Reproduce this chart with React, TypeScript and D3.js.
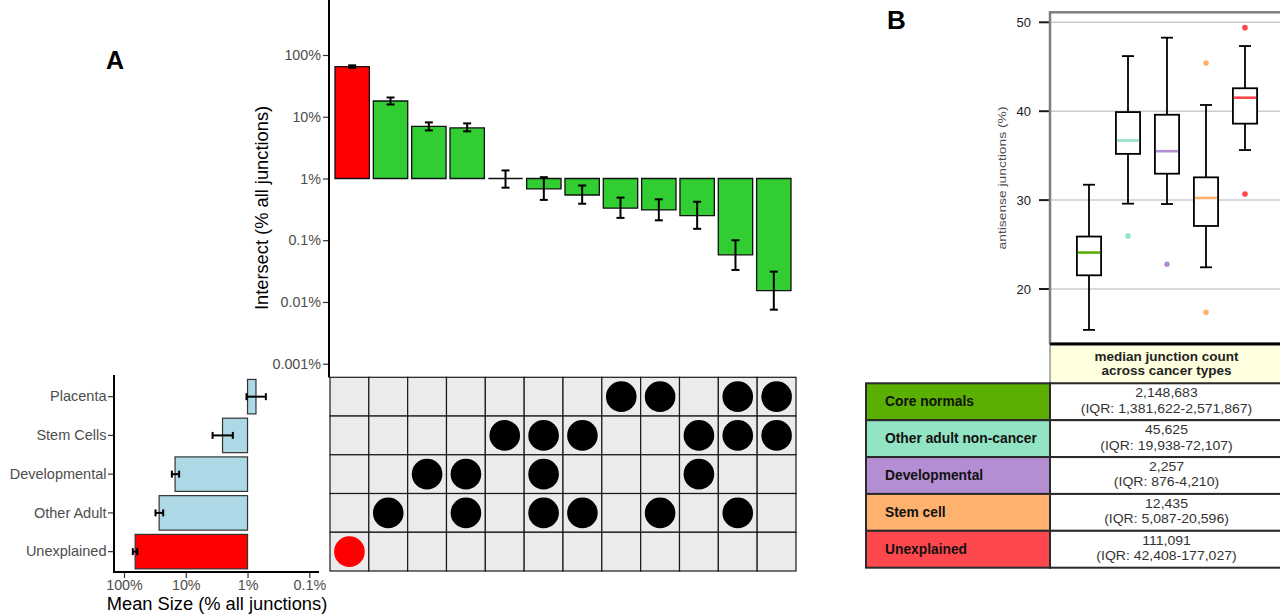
import React, { useEffect, useRef } from 'react';
import * as d3 from 'd3';

const FONT = '"Liberation Sans", Arial, Helvetica, sans-serif';

// panel A: sets (matrix rows, top to bottom)
const setNames = ['Placenta', 'Stem Cells', 'Developmental', 'Other Adult', 'Unexplained'];
const meanSize = [0.73, 2.54, 14.9, 27, 66];
const meanSizeLow = [0.505, 1.73, 12.8, 23.2, 61];
const meanSizeHigh = [1.04, 3.68, 16.8, 30.9, 72];
const meanTicks = [100, 10, 1, 0.1];

// panel A: intersections (columns)
const intersectMembers = [
    ['Unexplained'],
    ['Other Adult'],
    ['Developmental'],
    ['Developmental', 'Other Adult'],
    ['Stem Cells'],
    ['Stem Cells', 'Developmental', 'Other Adult'],
    ['Stem Cells', 'Other Adult'],
    ['Placenta'],
    ['Placenta', 'Other Adult'],
    ['Stem Cells', 'Developmental'],
    ['Placenta', 'Stem Cells', 'Other Adult'],
    ['Placenta', 'Stem Cells'],
];
const intersectSize = [65, 18, 7.0, 6.6, 1.0, 0.68, 0.54, 0.33, 0.31, 0.25, 0.058, 0.0153];
const intersectLow = [62, 15.8, 6.0, 5.8, 0.71, 0.45, 0.39, 0.23, 0.21, 0.153, 0.033, 0.0075];
const intersectHigh = [68, 20.5, 8.1, 7.8, 1.35, 1.05, 0.77, 0.49, 0.46, 0.42, 0.1, 0.031];
const intersectTicks = [100, 10, 1, 0.1, 0.01, 0.001];

// panel B: boxplot
const groups = ['Core normals', 'Other adult non-cancer', 'Developmental', 'Stem cell', 'Unexplained'];
const groupColors = ['#5aaf00', '#93e3c5', '#b48ed3', '#ffb26e', '#ff484e'];
const whiskerLow = [15.4, 29.6, 29.56, 22.44, 35.63];
const q1 = [21.54, 35.2, 32.97, 27.09, 38.6];
const median = [24.1, 36.7, 35.5, 30.24, 41.52];
const q3 = [25.9, 39.9, 39.6, 32.56, 42.58];
const whiskerHigh = [31.73, 46.2, 48.27, 40.7, 47.33];
const outliers = [[], [25.96], [22.78], [45.42, 17.38], [49.4, 30.69]];
const boxTicks = [20, 30, 40, 50];

// panel B: table
const medianCounts = ['2,148,683', '45,625', '2,257', '12,435', '111,091'];
const iqrRanges = ['1,381,622-2,571,867', '19,938-72,107', '876-4,210', '5,087-20,596', '42,408-177,027'];

function styleAxis(g: any, size: number, color: string) {
    g.attr('font-family', FONT).attr('font-size', size);
    g.select('.domain').remove();
    g.selectAll('line').attr('stroke', '#333').attr('stroke-width', 1.2);
    g.selectAll('text').attr('fill', color);
}

export default function App() {
    const svgRef = useRef<SVGSVGElement>(null);

    useEffect(() => {
        const svg = d3.select(svgRef.current);
        svg.selectAll('*').remove();

        // ---------- top bars ----------
        const xTop = d3.scaleBand<number>().domain(d3.range(intersectSize.length)).range([335, 791]).paddingInner(0.103);
        const yTop = d3.scaleLog().domain([100, 0.001]).range([55, 363.7]);
        const bw = xTop.bandwidth();

        svg.append('g').selectAll('path')
            .data(intersectSize)
            .enter()
            .append('path')
            .attr('d', (d, i) => {
                const x0 = xTop(i)!;
                return `M${x0},${yTop(1)}V${yTop(d)}H${x0 + bw}V${yTop(1)}Z`;
            })
            .attr('fill', (d, i) => (i === 0 ? '#ff0000' : '#32cd32'))
            .attr('stroke', '#111')
            .attr('stroke-width', 1.3);

        const errTop = svg.append('g').attr('stroke', '#000').attr('stroke-width', 2);
        intersectSize.forEach((d, i) => {
            const cx = xTop(i)! + bw / 2;
            const lo = yTop(intersectLow[i]);
            const hi = yTop(intersectHigh[i]);
            errTop.append('line').attr('x1', cx).attr('x2', cx).attr('y1', lo).attr('y2', hi);
            errTop.append('line').attr('x1', cx - 4).attr('x2', cx + 4).attr('y1', lo).attr('y2', lo);
            errTop.append('line').attr('x1', cx - 4).attr('x2', cx + 4).attr('y1', hi).attr('y2', hi);
        });

        const gTopY = svg.append('g').attr('transform', 'translate(329,0)')
            .call(d3.axisLeft(yTop).tickValues(intersectTicks).tickFormat((d: any) => `${d}%`).tickSize(6).tickPadding(2));
        styleAxis(gTopY, 14.3, '#4d4d4d');
        svg.append('line').attr('x1', 329).attr('x2', 329).attr('y1', 0).attr('y2', 377.5)
            .attr('stroke', '#000').attr('stroke-width', 2);

        svg.append('text')
            .attr('transform', 'translate(268,208) rotate(-90)')
            .attr('text-anchor', 'middle')
            .attr('font-family', FONT).attr('font-size', 18.3)
            .text('Intersect (% all junctions)');

        // ---------- matrix ----------
        const xMat = d3.scaleBand<number>().domain(d3.range(intersectSize.length)).range([330, 796]);
        const yMat = d3.scaleBand<string>().domain(setNames).range([377.3, 571]);
        const gMat = svg.append('g');
        intersectMembers.forEach((members, i) => {
            setNames.forEach((name) => {
                gMat.append('rect')
                    .attr('x', xMat(i)!).attr('y', yMat(name)!)
                    .attr('width', xMat.bandwidth()).attr('height', yMat.bandwidth())
                    .attr('fill', '#ebebeb').attr('stroke', '#1a1a1a').attr('stroke-width', 1.2);
            });
        });
        intersectMembers.forEach((members, i) => {
            members.forEach((name) => {
                gMat.append('circle')
                    .attr('cx', xMat(i)! + xMat.bandwidth() / 2)
                    .attr('cy', yMat(name)! + yMat.bandwidth() / 2)
                    .attr('r', 15.3)
                    .attr('fill', members.length === 1 && name === 'Unexplained' ? '#ff0000' : '#000');
            });
        });

        // ---------- left bars ----------
        const xLeft = d3.scaleLog().domain([100, 0.1]).range([124, 309.3]);
        const yLeft = d3.scaleBand<string>().domain(setNames).range([377.3, 571]).paddingInner(0.11).paddingOuter(0.055);

        svg.append('g').selectAll('rect')
            .data(meanSize)
            .enter()
            .append('rect')
            .attr('x', (d) => Math.min(xLeft(d), xLeft(1)))
            .attr('y', (d, i) => yLeft(setNames[i])!)
            .attr('width', (d) => Math.abs(xLeft(1) - xLeft(d)))
            .attr('height', yLeft.bandwidth())
            .attr('fill', (d, i) => (setNames[i] === 'Unexplained' ? '#ff0000' : '#add8e6'))
            .attr('stroke', '#333')
            .attr('stroke-width', 1.2);

        const errLeft = svg.append('g').attr('stroke', '#000').attr('stroke-width', 2);
        meanSize.forEach((d, i) => {
            const cy = yLeft(setNames[i])! + yLeft.bandwidth() / 2;
            const a = xLeft(meanSizeHigh[i]);
            const b = xLeft(meanSizeLow[i]);
            errLeft.append('line').attr('x1', a).attr('x2', b).attr('y1', cy).attr('y2', cy);
            errLeft.append('line').attr('x1', a).attr('x2', a).attr('y1', cy - 3.5).attr('y2', cy + 3.5);
            errLeft.append('line').attr('x1', b).attr('x2', b).attr('y1', cy - 3.5).attr('y2', cy + 3.5);
        });

        const gLeftY = svg.append('g').attr('transform', 'translate(114,0)')
            .call(d3.axisLeft(yLeft).tickSize(6).tickPadding(1.5));
        styleAxis(gLeftY, 14.5, '#4d4d4d');
        const gLeftX = svg.append('g').attr('transform', 'translate(0,572)')
            .call(d3.axisBottom(xLeft).tickValues(meanTicks).tickFormat((d: any) => `${d}%`).tickSize(6).tickPadding(2));
        styleAxis(gLeftX, 14.3, '#4d4d4d');
        svg.append('line').attr('x1', 114).attr('x2', 114).attr('y1', 375).attr('y2', 573)
            .attr('stroke', '#000').attr('stroke-width', 2);
        svg.append('line').attr('x1', 113).attr('x2', 319).attr('y1', 572).attr('y2', 572)
            .attr('stroke', '#000').attr('stroke-width', 2);
        svg.append('text')
            .attr('x', 217).attr('y', 610)
            .attr('text-anchor', 'middle')
            .attr('font-family', FONT).attr('font-size', 18.3)
            .text('Mean Size (% all junctions)');

        svg.append('text').attr('x', 106).attr('y', 69)
            .attr('font-family', FONT).attr('font-size', 25).attr('font-weight', 'bold').text('A');

        // ---------- panel B boxplot ----------
        svg.append('text').attr('x', 887).attr('y', 29)
            .attr('font-family', FONT).attr('font-size', 26).attr('font-weight', 'bold').text('B');

        const xBox = d3.scaleBand<string>().domain(groups).range([1069.5, 1264.5]).paddingInner(0.38).paddingOuter(0.19);
        const yBox = d3.scaleLinear().domain([20, 50]).range([289, 22.3]);
        const boxW = xBox.bandwidth();

        const gGrid = svg.append('g');
        boxTicks.forEach((t) => {
            gGrid.append('line').attr('x1', 1050).attr('x2', 1280).attr('y1', yBox(t)).attr('y2', yBox(t))
                .attr('stroke', '#cccccc').attr('stroke-width', 1.5);
            gGrid.append('line').attr('x1', 1039).attr('x2', 1049).attr('y1', yBox(t)).attr('y2', yBox(t))
                .attr('stroke', '#1a1a1a').attr('stroke-width', 2);
            gGrid.append('text').attr('x', 1031).attr('y', yBox(t))
                .attr('text-anchor', 'end').attr('dominant-baseline', 'central')
                .attr('font-family', FONT).attr('font-size', 13).attr('fill', '#1a1a1a')
                .text(t);
        });
        svg.append('text')
            .attr('transform', 'translate(1006,178) rotate(-90)')
            .attr('text-anchor', 'middle')
            .attr('font-family', FONT).attr('font-size', 10.5)
            .attr('textLength', 143).attr('lengthAdjust', 'spacingAndGlyphs')
            .attr('fill', '#4d4d4d')
            .text('antisense junctions (%)');

        const gBox = svg.append('g');
        groups.forEach((g, i) => {
            const x0 = xBox(g)!;
            const cx = x0 + boxW / 2;
            const line = (x1: number, x2: number, y1: number, y2: number, color = '#000', w = 1.8) =>
                gBox.append('line').attr('x1', x1).attr('x2', x2).attr('y1', y1).attr('y2', y2)
                    .attr('stroke', color).attr('stroke-width', w);
            line(cx, cx, yBox(whiskerLow[i]), yBox(q1[i]));
            line(cx, cx, yBox(q3[i]), yBox(whiskerHigh[i]));
            line(cx - 6, cx + 6, yBox(whiskerLow[i]), yBox(whiskerLow[i]));
            line(cx - 6, cx + 6, yBox(whiskerHigh[i]), yBox(whiskerHigh[i]));
            gBox.append('rect')
                .attr('x', x0).attr('y', yBox(q3[i]))
                .attr('width', boxW).attr('height', yBox(q1[i]) - yBox(q3[i]))
                .attr('fill', '#fff').attr('stroke', '#000').attr('stroke-width', 1.8);
            line(x0 + 1, x0 + boxW - 1, yBox(median[i]), yBox(median[i]), groupColors[i], 2.6);
            outliers[i].forEach((o) => {
                gBox.append('circle').attr('cx', cx).attr('cy', yBox(o)).attr('r', 2.8).attr('fill', groupColors[i]);
            });
        });

        svg.append('rect').attr('x', 1050).attr('y', 12.3).attr('width', 260).attr('height', 331)
            .attr('fill', 'none').attr('stroke', '#7f7f7f').attr('stroke-width', 2.5);

        // ---------- panel B table ----------
        const rowY = d3.scaleBand<string>().domain(groups).range([383.3, 567.7]);
        const colLeft = 866;
        const colMid = 1050;
        const colRight = 1283;
        const midX = (colMid + colRight) / 2;

        svg.append('rect').attr('x', colMid).attr('y', 345).attr('width', colRight - colMid).attr('height', 383.3 - 345)
            .attr('fill', '#ffffe0').attr('stroke', '#666').attr('stroke-width', 1);
        svg.append('line').attr('x1', colMid).attr('x2', 1280).attr('y1', 344).attr('y2', 344)
            .attr('stroke', '#000').attr('stroke-width', 2.5);
        ['median junction count', 'across cancer types'].forEach((t, k) => {
            svg.append('text').attr('x', midX).attr('y', 360.5 + k * 14.5)
                .attr('text-anchor', 'middle')
                .attr('font-family', FONT).attr('font-size', 13.5).attr('font-weight', 'bold').attr('fill', '#222')
                .text(t);
        });

        const gTab = svg.append('g');
        groups.forEach((g, i) => {
            const y0 = rowY(g)!;
            const h = rowY.bandwidth();
            gTab.append('rect').attr('x', colLeft).attr('y', y0).attr('width', colMid - colLeft).attr('height', h)
                .attr('fill', groupColors[i]).attr('stroke', '#2a2a2a').attr('stroke-width', 2);
            gTab.append('rect').attr('x', colMid).attr('y', y0).attr('width', colRight - colMid).attr('height', h)
                .attr('fill', '#fff').attr('stroke', '#2a2a2a').attr('stroke-width', 2);
            gTab.append('text').attr('x', 885).attr('y', y0 + h / 2)
                .attr('dominant-baseline', 'central')
                .attr('font-family', FONT).attr('font-size', 13.8).attr('font-weight', 'bold').attr('fill', '#111')
                .text(g);
            gTab.append('text')
                .attr('transform', `translate(${midX},${y0 + 14}) scale(1.17,1)`)
                .attr('text-anchor', 'middle')
                .attr('font-family', FONT).attr('font-size', 12).attr('fill', '#333')
                .text(medianCounts[i]);
            gTab.append('text')
                .attr('transform', `translate(${midX},${y0 + 29.4}) scale(1.17,1)`)
                .attr('text-anchor', 'middle')
                .attr('font-family', FONT).attr('font-size', 12).attr('fill', '#333')
                .text(`(IQR: ${iqrRanges[i]})`);
        });
    }, []);

    return (
        <svg ref={svgRef} width={1280} height={615}
            style={{ position: 'absolute', left: 0, top: 0, background: '#fff' }}></svg>
    );
}
